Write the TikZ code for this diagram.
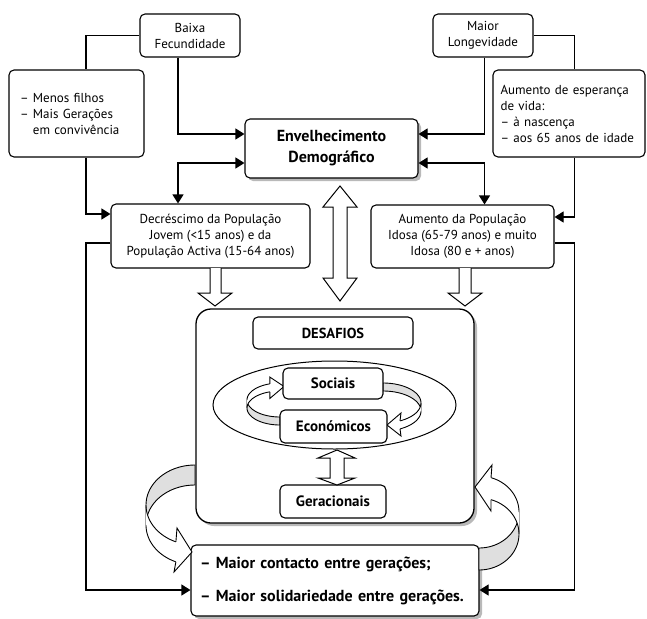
\documentclass[tikz,border=0pt]{standalone}
\usepackage{fontspec}
\setmainfont{PT Sans}
\usetikzlibrary{arrows.meta,shadows}
\newcommand{\rbgrey}[7]{%
 \filldraw[fill=gray!25, line width=0.9pt] plot[domain=#6:#7, samples=25, variable=\t] ({#1+#3*cos(\t)},{#2+#4*sin(\t)}) -- plot[domain=#6:#7, samples=25, variable=\t] ({#1+#3*cos(#6+#7-\t)},{#2+#4*sin(#6+#7-\t)+#5}) -- cycle;}
\newcommand{\rbwhite}[7]{%
 \fill[white] plot[domain=#6:#7, samples=25, variable=\t] ({#1+#3*cos(\t)},{#2+#4*sin(\t)}) -- plot[domain=#6:#7, samples=25, variable=\t] ({#1+#3*cos(#6+#7-\t)},{#2+#4*sin(#6+#7-\t)+#5}) -- cycle;
 \draw[line width=0.9pt] plot[domain=#6:#7, samples=25, variable=\t] ({#1+#3*cos(\t)},{#2+#4*sin(\t)});
 \draw[line width=0.9pt] plot[domain=#6:#7, samples=25, variable=\t] ({#1+#3*cos(\t)},{#2+#4*sin(\t)+#5});}
\newcommand{\rbhead}[5]{%
 \fill[white] #1 -- #2 -- #3 -- #4 -- #5 -- cycle;
 \draw[line width=0.9pt] #1 -- #2 -- #3 -- #4 -- #5;}
\begin{document}
\begin{tikzpicture}[x=1pt,y=-1pt, line width=1.1pt,
  box/.style={draw, rounded corners=5pt, fill=white, align=center, inner sep=0pt, line width=1.1pt, font=\fontsize{13}{16}\selectfont},
  bbox/.style={box, font=\fontsize{15}{17}\selectfont\bfseries},
  shadowed/.style={drop shadow={shadow xshift=3pt, shadow yshift=-3pt, fill=gray!55, opacity=1}},
  arr/.style={-{Triangle[length=9pt,width=11pt]}},
  darr/.style={{Triangle[length=9pt,width=11pt]}-{Triangle[length=9pt,width=11pt]}},
  hollow/.style={draw, fill=white, line width=1pt, line join=miter}]
\useasboundingbox (0,0) rectangle (647,618);
\coordinate (xL) at (86,0);
\coordinate (xL2) at (178,0);
\coordinate (xR2) at (484.5,0);
\coordinate (xR) at (574.5,0);

% boxes
\node[box, minimum width=100pt, minimum height=43pt] (baixa) at (190,35.5) {Baixa\\Fecundidade};
\node[box, minimum width=100pt, minimum height=43pt] (maior) at (483,35.5) {Maior\\Longevidade};
\node[box, align=left, text width=113pt, inner xsep=11pt, minimum height=87pt] (menos) at (76.5,113.5) {– Menos filhos\\– Mais Gerações\\\phantom{– }em convivência};
\node[box, align=left, text width=137pt, inner xsep=7.5pt, minimum height=87pt] (aumesp) at (569,113.5) {Aumento de esperança\\de vida:\\– à nascença\\– aos 65 anos de idade};
\node[bbox, shadowed, minimum width=173pt, minimum height=59pt, font=\fontsize{16}{21}\selectfont\bfseries] (envelh) at (331.5,148.5) {Envelhecimento\\Demográfico};
\node[box, minimum width=199pt, minimum height=64pt] (decr) at (210.5,236) {Decréscimo da População\\Jovem (<15 anos) e da\\População Activa (15-64 anos)};
\node[box, minimum width=183pt, minimum height=63pt] (aumpop) at (462.5,236.5) {Aumento da População\\Idosa (65-79 anos) e muito\\Idosa (80 e + anos)};

% connectors
\draw (baixa.west) -| (xL |- menos.north);
\draw[arr] (xL |- menos.south) |- ([yshift=22pt]decr.west);
\draw[arr] (xL2 |- baixa.south) |- ([yshift=14.5pt]envelh.west);
\draw[darr] ([yshift=-14.5pt]envelh.west) -| (xL2 |- decr.north);
\draw (maior.east) -| (xR |- aumesp.north);
\draw[arr] (xR |- aumesp.south) |- ([yshift=19.5pt]aumpop.east);
\draw[arr] (xR2 |- maior.south) |- ([yshift=14.5pt]envelh.east);
\draw[darr] ([yshift=-14.5pt]envelh.east) -| (xR2 |- aumpop.north);

% Desafios
\node[draw, shadowed, fill=white, rounded corners=15pt, line width=1.3pt, minimum width=278pt, minimum height=214pt] (desaf) at (335,416) {};
\node[bbox, minimum width=160pt, minimum height=32pt, font=\fontsize{14.5}{17}\selectfont\bfseries] (deslab) at (333,333) {DESAFIOS};
\draw[line width=1pt] (334.5,405) ellipse [x radius=121.5, y radius=44];

\node[box, minimum width=170pt, minimum height=71pt, shadowed, align=left, text width=270pt, inner xsep=9pt, font=\fontsize{16}{33}\selectfont\bfseries] (bottom) at (335,580.5) {\rule{0pt}{6pt}– Maior contacto entre gerações;\\– Maior solidariedade entre gerações.};
\draw[arr] ([yshift=-7pt]decr.west) -| (xL |- bottom.west) |- ([yshift=-9.5pt]bottom.west);
\draw[arr] ([yshift=-6.5pt]aumpop.east) -| (xR |- bottom.east) |- ([yshift=-9.5pt]bottom.east);

% hollow arrows
\draw[hollow] (210,268) -- (210,293) -- (198,293) -- (215,306) -- (232,293) -- (221,293) -- (221,268);
\draw[hollow] (459,268) -- (459,293) -- (448,293) -- (465,306) -- (482,293) -- (471,293) -- (471,268);
\draw[hollow] (340,186) -- (357,207) -- (347,207) -- (347,278) -- (357,278) -- (340,301) -- (323,278) -- (333,278) -- (333,207) -- (323,207) -- cycle;

% inner ribbons
\rbgrey{280}{400}{33}{17}{8}{90}{180}
\rbwhite{280}{400}{33}{17}{8}{180}{252}
\rbhead{(269.8,383.8)}{(269.8,377)}{(284,386.5)}{(269.8,398.5)}{(269.8,391.8)}
\rbgrey{383}{403}{38}{20}{8}{270}{360}
\rbwhite{383}{403}{38}{20}{8}{0}{63.4}
\rbhead{(400,420.9)}{(401,413)}{(387,425)}{(401,436)}{(400,428.9)}

\node[bbox, minimum width=100pt, minimum height=31pt] (soc) at (333,383.5) {Sociais};
\node[bbox, minimum width=107pt, minimum height=33pt] (econ) at (333.5,426.5) {Económicos};
\node[bbox, minimum width=106pt, minimum height=33pt] (gerac) at (333,501.5) {Geracionais};
\draw[hollow] (337,450) -- (355,458) -- (344,458) -- (344,478) -- (355,478) -- (337,485) -- (318,478) -- (330,478) -- (330,458) -- (318,458) -- cycle;

% outer ribbons
\rbgrey{195}{505}{49}{40}{20}{180}{270}
\rbwhite{195}{505}{49}{40}{20}{113}{180}
\rbhead{(175.9,541.8)}{(177,528)}{(192,552)}{(174,572)}{(175.9,561.8)}
\rbgrey{479}{512}{40}{36}{22}{0}{90}
\rbwhite{479}{512}{40}{36}{22}{287.5}{360}
\rbhead{(491,477.7)}{(492,465)}{(475,487)}{(491,511)}{(491,499.7)}
\end{tikzpicture}
\end{document}
